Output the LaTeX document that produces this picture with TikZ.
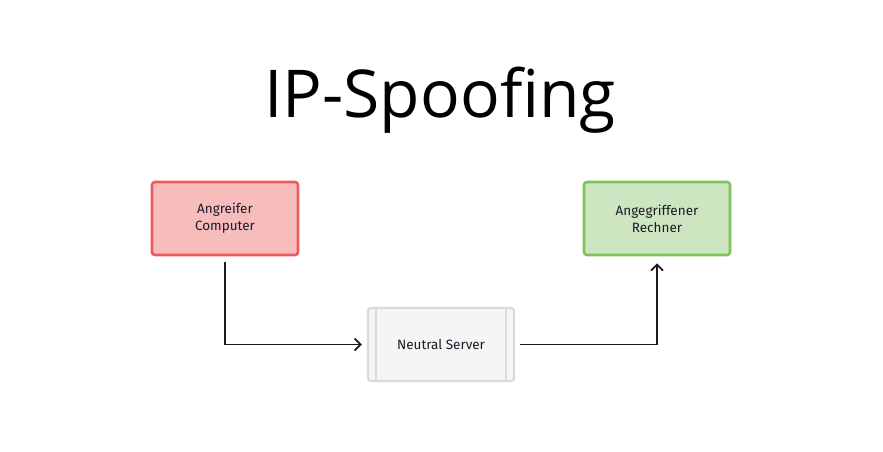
\documentclass[tikz,border=0pt]{standalone}
\usepackage{fontspec}
\setmainfont{Fira Sans}
\newfontfamily\titlefont{Open Sans}
\usetikzlibrary{arrows.meta}

\definecolor{redfill}{HTML}{F7BCBC}
\definecolor{redline}{HTML}{E85C5C}
\definecolor{greenfill}{HTML}{CDE6C1}
\definecolor{greenline}{HTML}{7EC45C}
\definecolor{grayfill}{HTML}{F5F5F6}
\definecolor{grayline}{HTML}{D9D9DF}
\definecolor{arrowcol}{HTML}{1B1B26}

\begin{document}
\begin{tikzpicture}[x=1pt, y=-1pt,
    box/.style={rounded corners=3pt, minimum width=146pt, minimum height=73pt,
        align=center, font=\fontsize{13.5}{17}\selectfont, text=arrowcol},
    link/.style={-{Straight Barb[length=6pt, width=12pt]}, line width=1.8pt, color=arrowcol}]
    \useasboundingbox (0, 0) rectangle (883, 452);
    \node[font=\titlefont\fontsize{66}{76}\selectfont] (title) at (440, 100) {IP-Spoofing};
    \node[box, draw=redline, fill=redfill, line width=2.6pt] (attacker) at (225, 218.5) {Angreifer\\Computer};
    \node[box, draw=greenline, fill=greenfill, line width=2.6pt] (target) at (657, 218.5) {Angegriffener\\Rechner};
    \node[box, draw=grayline, fill=grayfill, line width=2.2pt] (server) at (441, 344.5) {Neutral Server};
    \draw[grayline, line width=2.2pt] ([xshift=9pt]server.north west) -- ([xshift=9pt]server.south west);
    \draw[grayline, line width=2.2pt] ([xshift=-9pt]server.north east) -- ([xshift=-9pt]server.south east);
    \draw[link] ([yshift=-6pt]attacker.south) |- ([xshift=-5pt]server.west);
    \draw[link] ([xshift=5pt]server.east) -| ([yshift=-7pt]target.south);
\end{tikzpicture}
\end{document}
